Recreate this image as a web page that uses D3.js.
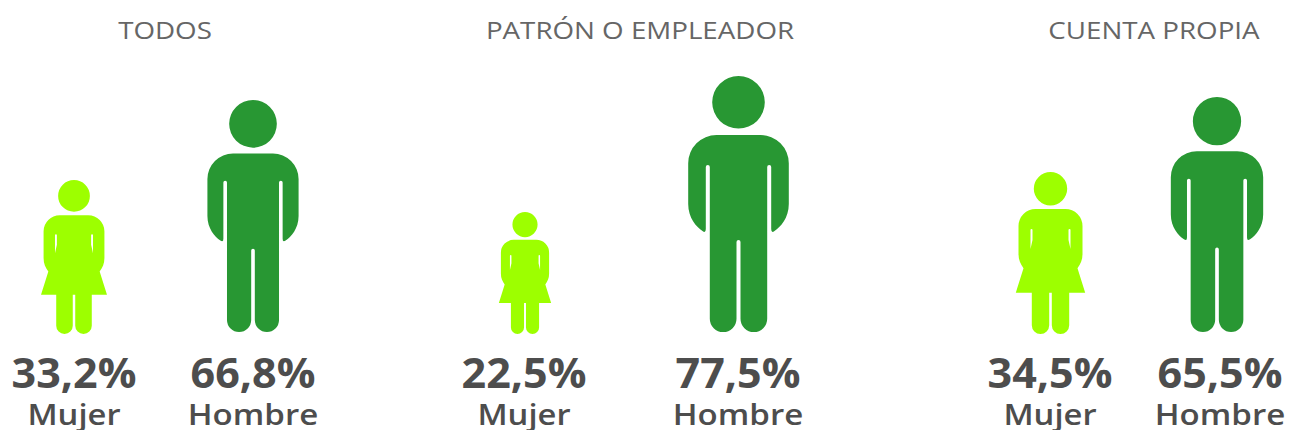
<!DOCTYPE html>
<html>
<head>
<meta charset="utf-8">
<script src="https://cdn.jsdelivr.net/npm/d3@7"></script>
<style>
  html, body { margin: 0; background: #fff; }
  text { font-family: "Open Sans", "Noto Sans", sans-serif; text-anchor: middle; }
</style>
</head>
<body>
<div id="chart"></div>
<script>
// data
var categories = ["TODOS", "PATRÓN O EMPLEADOR", "CUENTA PROPIA"];
var womenValues = [33.2, 22.5, 34.5];
var menValues = [66.8, 77.5, 65.5];
var genderLabels = ["Mujer", "Hombre"];

var svgWidth = 1289;
var svgHeight = 430;

var svg = d3.select("#chart").append("svg")
    .attr("width", svgWidth)
    .attr("height", svgHeight)
    .style("display", "block");

// figure height in pixels for a given percentage
var womanHeight = d3.scaleLinear().domain([22.5, 33.2, 34.5]).range([122, 154, 162]);
var manHeight = d3.scaleLinear().domain([65.5, 66.8, 77.5]).range([235, 232, 256]);

// horizontal centres
var titleX = d3.scaleOrdinal().domain(categories).range([165, 640, 1154]);
var womanX = d3.scaleOrdinal().domain(categories).range([74, 525, 1050.5]);
var manX = d3.scaleOrdinal().domain(categories).range([253, 738.5, 1217]);
var womanLabelX = d3.scaleOrdinal().domain(categories).range([74, 524, 1050]);
var manValueX = d3.scaleOrdinal().domain(categories).range([253, 738, 1220]);

// icons: drawn 256 (man) and 162 (woman) tall, x=0 in the middle, y=0 at head top
var manBase = 256;
var manPath = "M-22,59H22A28.3,28.3 0 0 1 50.3,87.3V128C50.3,142 42,151 36,155Q32.7,157.5 32.7,153V91" +
    "A2,2 0 0 0 28.7,91V242.7A13.35,13.35 0 0 1 2,242.7V166A2,2 0 0 0 -2,166V242.7" +
    "A13.35,13.35 0 0 1 -28.7,242.7V91A2,2 0 0 0 -32.7,91V153Q-32.7,157.5 -36,155" +
    "C-42,151 -50.3,142 -50.3,128V87.3A28.3,28.3 0 0 1 -22,59Z" +
    "M0,0A26.3,26.3 0 1 1 0,52.6A26.3,26.3 0 1 1 0,0Z";

var womanBase = 162;
var womanPath = "M-15,37H15A17,17 0 0 1 32,54V82C32,88 30,92 27,96.3L34.7,120.7H18.7V153.3" +
    "A8.7,8.7 0 0 1 1.3,153.3V120.7H-1.3V153.3A8.7,8.7 0 0 1 -18.7,153.3V120.7H-34.7" +
    "L-27,96.3C-30,92 -32,88 -32,82V54A17,17 0 0 1 -15,37Z" +
    "M0,0A16.7,16.7 0 1 1 0,33.4A16.7,16.7 0 1 1 0,0Z" +
    "M-20,58A1,1 0 0 1 -18,58V68L-20,77Z" +
    "M20,58A1,1 0 0 0 18,58V68L20,77Z";

var panels = svg.selectAll("g.panel")
    .data(categories)
    .enter()
    .append("g")
    .attr("class", "panel");

// stretch a text sideways, the original font is wider than what we have here
function stretch(sel, k) {
    sel.attr("textLength", function() { return this.getComputedTextLength() * k; })
        .attr("lengthAdjust", "spacingAndGlyphs");
}

panels.append("text")
    .text(d => d)
    .attr("x", d => titleX(d))
    .attr("y", 39)
    .attr("font-size", 24)
    .attr("fill", "#666666")
    .call(stretch, 1.155);

// women
panels.append("path")
    .attr("d", womanPath)
    .attr("fill", "#9dff00")
    .attr("fill-rule", "evenodd")
    .attr("transform", (d, i) => {
        var h = womanHeight(womenValues[i]);
        return `translate(${womanX(d)},${334 - h}) scale(${h / womanBase})`;
    });

// men
panels.append("path")
    .attr("d", manPath)
    .attr("fill", "#289733")
    .attr("transform", (d, i) => {
        var h = manHeight(menValues[i]);
        return `translate(${manX(d)},${332 - h}) scale(${h / manBase})`;
    });

var pct = v => v.toFixed(1).replace(".", ",") + "%";

panels.append("text")
    .text((d, i) => pct(womenValues[i]))
    .attr("x", d => womanLabelX(d))
    .attr("y", 388)
    .attr("font-size", 41)
    .attr("font-weight", 700)
    .attr("fill", "#4d4d4d")
    .call(stretch, 1.05);

panels.append("text")
    .text((d, i) => pct(menValues[i]))
    .attr("x", d => manValueX(d))
    .attr("y", 388)
    .attr("font-size", 41)
    .attr("font-weight", 700)
    .attr("fill", "#4d4d4d")
    .call(stretch, 1.05);

panels.append("text")
    .text(genderLabels[0])
    .attr("x", d => womanLabelX(d))
    .attr("y", 425)
    .attr("font-size", 29)
    .attr("font-weight", 600)
    .attr("fill", "#4d4d4d")
    .call(stretch, 1.13);

panels.append("text")
    .text(genderLabels[1])
    .attr("x", d => manValueX(d))
    .attr("y", 425)
    .attr("font-size", 29)
    .attr("font-weight", 600)
    .attr("fill", "#4d4d4d")
    .call(stretch, 1.14);
</script>
</body>
</html>
